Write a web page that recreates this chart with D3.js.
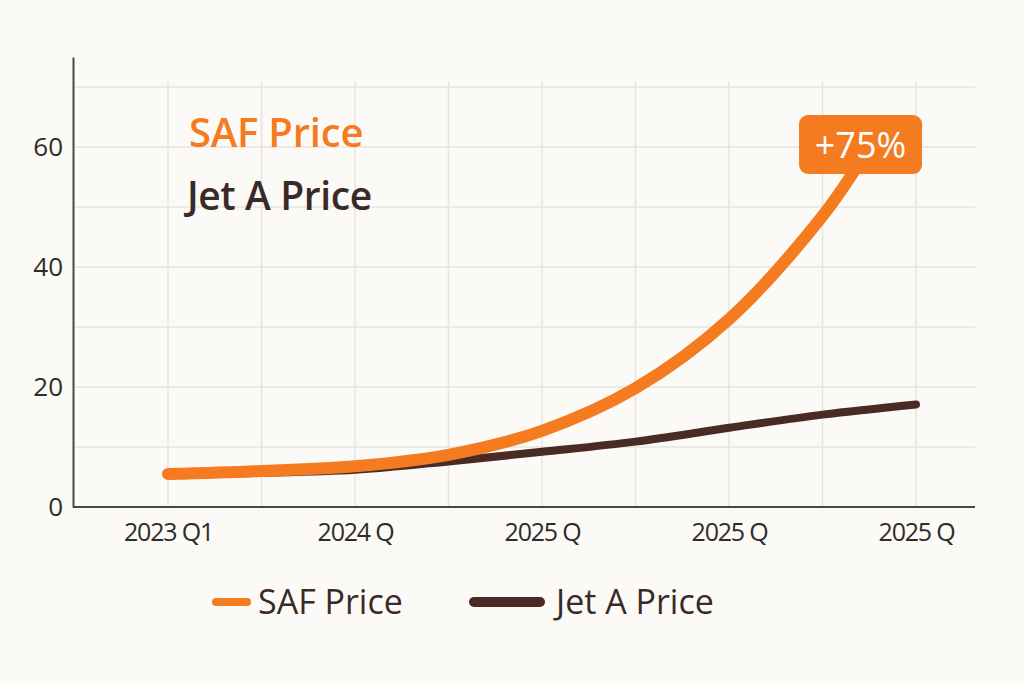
<!DOCTYPE html>
<html>
<head>
<meta charset="utf-8">
<script src="https://cdn.jsdelivr.net/npm/d3@7"></script>
<style>
  html, body { margin: 0; padding: 0; background: #fcfaf6; }
  svg { display: block; font-family: "Open Sans", "Noto Sans", sans-serif; }
</style>
</head>
<body>
<div id="chart"></div>
<script>
// quarter positions on the x axis (every gridline is one step)
const quarterSteps = [0, 1, 2, 3, 4, 5, 6, 7, 8];
const tickPositions = [0, 2, 4, 6, 8];
const tickLabels = ["2023 Q1", "2024 Q", "2025 Q", "2025 Q", "2025 Q"];

// SAF curve stops under the callout, a bit past the 8th step
const safSteps = [0, 1, 2, 3, 4, 5, 6, 7, 7.4];
const safValues = [5.5, 6.0, 6.8, 8.7, 12.7, 19.8, 31.3, 48.5, 57.5];
const jetSteps = [0, 1, 2, 3, 4, 5, 6, 7, 8];
const jetValues = [5.5, 5.7, 6.2, 7.6, 9.2, 10.9, 13.2, 15.4, 17.1];

const yTicks = [0, 20, 40, 60];
const yGrid = [10, 20, 30, 40, 50, 60, 70];
const callout = "+75%";

const orange = "#f47b20";
const brown = "#4a2a24";
const textDark = "#3a2a27";

const width = 1024, height = 683;
const plotLeft = 73, plotRight = 975, plotTop = 57, plotBottom = 507;

const svg = d3.select("#chart").append("svg")
    .attr("width", width)
    .attr("height", height);

svg.append("rect")
    .attr("width", width)
    .attr("height", height)
    .attr("fill", "#fcfaf6");

const x = d3.scaleLinear()
    .domain([0, 8])
    .range([168, 916]);

const y = d3.scaleLinear()
    .domain([0, 75])
    .range([plotBottom, plotTop]);

// grid
svg.append("g")
    .selectAll("line")
    .data(yGrid)
    .enter()
    .append("line")
    .attr("x1", plotLeft)
    .attr("x2", plotRight)
    .attr("y1", d => y(d))
    .attr("y2", d => y(d))
    .attr("stroke", "#e7e4df")
    .attr("stroke-width", 1.5);

svg.append("g")
    .selectAll("line")
    .data(quarterSteps)
    .enter()
    .append("line")
    .attr("x1", d => x(d))
    .attr("x2", d => x(d))
    .attr("y1", y(71))
    .attr("y2", plotBottom)
    .attr("stroke", "#e7e4df")
    .attr("stroke-width", 1.5);

// axes
const yAxis = svg.append("g")
    .attr("transform", `translate(${plotLeft},0)`)
    .call(d3.axisLeft(y).tickValues(yTicks).tickSize(0).tickPadding(10))
    .attr("font-family", null)
    .attr("font-size", null);
yAxis.select(".domain").attr("stroke", "#4a4745").attr("stroke-width", 2);
yAxis.selectAll("text")
    .attr("fill", "#2f2b29")
    .style("font-size", "26px");

const xAxis = svg.append("g")
    .attr("transform", `translate(0,${plotBottom})`)
    .call(d3.axisBottom(x)
        .tickValues(tickPositions)
        .tickFormat((d, i) => tickLabels[i])
        .tickSize(0)
        .tickPadding(16))
    .attr("font-family", null)
    .attr("font-size", null);
xAxis.select(".domain")
    .attr("d", `M${plotLeft},0H${plotRight}`)
    .attr("stroke", "#4a4745")
    .attr("stroke-width", 2);
xAxis.selectAll("text")
    .attr("fill", "#2f2b29")
    .style("font-size", "25px")
    .style("letter-spacing", "-1.2px");

// lines
const line = d3.line()
    .x(d => x(d[0]))
    .y(d => y(d[1]))
    .curve(d3.curveCatmullRom.alpha(0.5));

svg.append("path")
    .datum(jetSteps.map((s, i) => [s, jetValues[i]]))
    .attr("d", line)
    .attr("fill", "none")
    .attr("stroke", brown)
    .attr("stroke-width", 8)
    .attr("stroke-linecap", "round");

svg.append("path")
    .datum(safSteps.map((s, i) => [s, safValues[i]]))
    .attr("d", line)
    .attr("fill", "none")
    .attr("stroke", orange)
    .attr("stroke-width", 12)
    .attr("stroke-linecap", "round");

// callout at the end of the SAF curve
const endX = x(7.3) + 10;
const endY = y(55.5);
const boxW = 123, boxH = 59;
svg.append("rect")
    .attr("x", endX - boxW / 2)
    .attr("y", endY - boxH)
    .attr("width", boxW)
    .attr("height", boxH)
    .attr("rx", 9)
    .attr("fill", orange);
svg.append("text")
    .attr("x", endX)
    .attr("y", endY - boxH / 2 + 13)
    .attr("text-anchor", "middle")
    .attr("fill", "#fff")
    .style("font-size", "36px")
    .style("font-weight", 500)
    .text(callout);

// in-plot labels
svg.append("text")
    .attr("x", 189)
    .attr("y", 147)
    .attr("fill", orange)
    .style("font-size", "40px")
    .style("font-weight", 600)
    .style("letter-spacing", "-0.2px")
    .text("SAF Price");

svg.append("text")
    .attr("x", 187)
    .attr("y", 210)
    .attr("fill", textDark)
    .style("font-size", "39px")
    .style("font-weight", 600)
    .style("letter-spacing", "-0.4px")
    .text("Jet A Price");

// legend
const legend = [
    {label: "SAF Price", color: orange, x1: 216, x2: 247, w: 8, tx: 258},
    {label: "Jet A Price", color: brown, x1: 474, x2: 540, w: 10, tx: 556}
];
const lg = svg.append("g");
lg.selectAll("line")
    .data(legend)
    .enter()
    .append("line")
    .attr("x1", d => d.x1)
    .attr("x2", d => d.x2)
    .attr("y1", 602)
    .attr("y2", 602)
    .attr("stroke", d => d.color)
    .attr("stroke-width", d => d.w)
    .attr("stroke-linecap", "round");
lg.selectAll("text")
    .data(legend)
    .enter()
    .append("text")
    .attr("x", d => d.tx)
    .attr("y", 614)
    .attr("fill", textDark)
    .style("font-size", "34px")
    .text(d => d.label);
</script>
</body>
</html>
